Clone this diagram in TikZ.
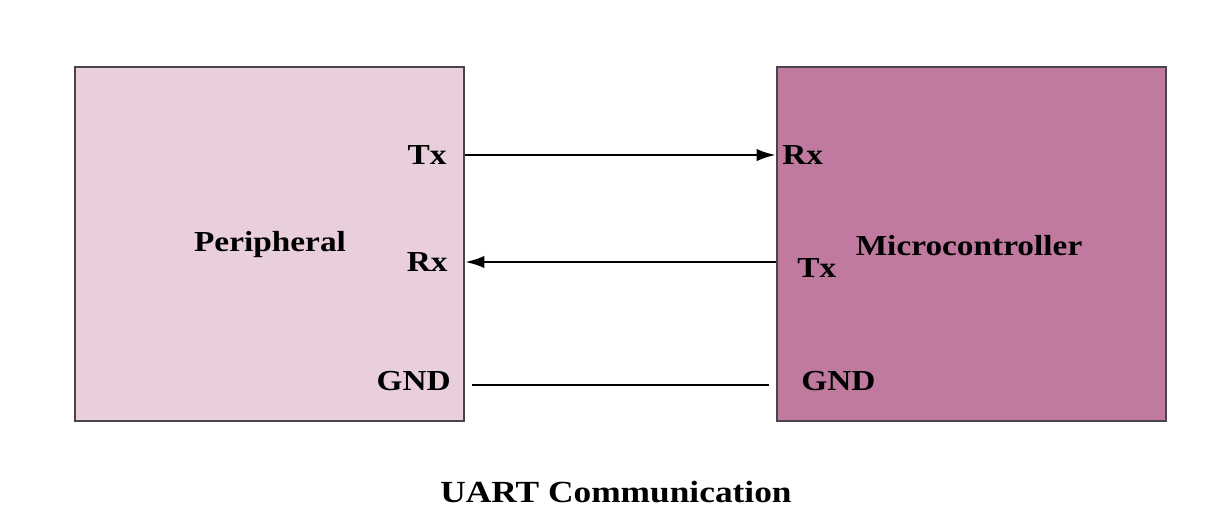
\documentclass[tikz,border=0pt]{standalone}
\usepackage{fontspec}
\setmainfont{Liberation Serif}[FakeStretch=1.15]
\usetikzlibrary{arrows.meta}
\definecolor{periphpink}{HTML}{E9CFDB}
\definecolor{micropink}{HTML}{C17A9F}
\definecolor{boxline}{HTML}{4A4448}
\tikzset{
  block/.style={shape=rectangle, draw=boxline, line width=1.2pt, minimum width=7.78cm, minimum height=7.08cm},
  pin/.style={draw=none, inner sep=0pt, font=\fontsize{16.5}{18}\selectfont\bfseries},
  wire/.style={line width=1.5pt}
}
\begin{document}
\begin{tikzpicture}[x=0.02cm, y=-0.02cm]
\useasboundingbox (0,0) rectangle (1223,529);
%%%%%%%%%%%%%%%%%%%%%%%%%%%%%%%%%%%%%%%%%%% blocks
\node[block, fill=periphpink] (periph) at (269.5,244){};
\node[block, fill=micropink] (micro) at (971.5,244){};
\node[pin] (pname) at (270,245){Peripheral};
\node[pin] (mname) at (969,246){Microcontroller};

%%%%%%%%%%%%%%%%%%%%%%%%%%%%%%%%%%%%%%%%%%% pins
\node[pin, anchor=east] (ptx) at (447,155){Tx};
\node[pin, anchor=east] (prx) at (448,262){Rx};
\node[pin, anchor=east] (pgnd) at (451,381){GND};
\node[pin, anchor=west] (mrx) at (782,155){Rx};
\node[pin, anchor=west] (mtx) at (797,268){Tx};
\node[pin, anchor=west] (mgnd) at (801,381){GND};
\coordinate (gndlevel) at (0,385);

%%%%%%%%%%%%%%%%%%%%%%%%%%%%%%%%%%%%%%%%%%% wires
\draw[wire, -{Latex[length=11pt, width=7pt]}] (periph.east |- ptx) -- (micro.west |- ptx);
\draw[wire, -{Latex[length=11pt, width=7pt]}] (micro.west |- prx) -- (periph.east |- prx);
\draw[wire, shorten <=4pt, shorten >=4pt] (periph.east |- gndlevel) -- (micro.west |- gndlevel);

%%%%% caption
\node[pin, font=\fontsize{17.5}{19}\selectfont\bfseries] (caption) at (616,492){UART Communication};

\end{tikzpicture}
\end{document}
